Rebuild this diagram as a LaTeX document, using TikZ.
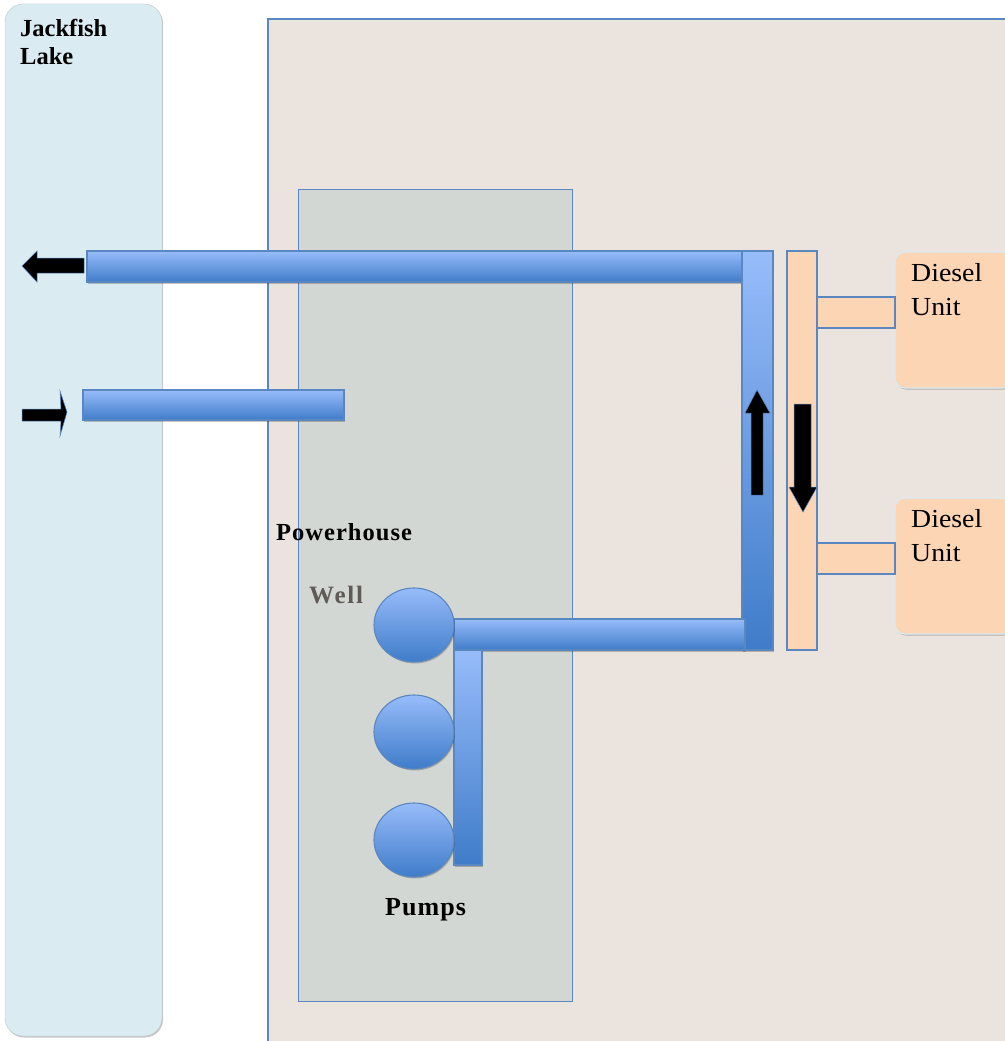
\documentclass[tikz,border=0pt]{standalone}
\usepackage{fontspec}
\setmainfont{Liberation Serif}
\newfontfamily\widefont[FakeStretch=1.07]{Liberation Serif}
\usetikzlibrary{shadows}
\definecolor{lakefill}{HTML}{DAEBF1}
\definecolor{bldfill}{HTML}{EAE3DE}
\definecolor{phfill}{HTML}{D3D7D3}
\definecolor{edgeblue}{HTML}{5B87C0}
\definecolor{pipetop}{HTML}{97BCFA}
\definecolor{pipebot}{HTML}{3F7CC9}
\definecolor{peach}{HTML}{FCD5B4}
\definecolor{wellcol}{HTML}{5F5A55}
\tikzset{
  softshadow/.style={drop shadow={shadow xshift=1pt,shadow yshift=-1.5pt,opacity=.22,fill=black}},
  pipe/.style={draw=edgeblue,line width=1.1pt,top color=pipetop,bottom color=pipebot,middle color=pipetop!50!pipebot,softshadow},
  peachbox/.style={draw=edgeblue,line width=1.2pt,fill=peach},
  unitbox/.style={draw=lakefill,line width=1.2pt,fill=peach,rounded corners=10pt,softshadow},
  flow/.style={fill=black,draw=edgeblue,line width=.5pt},
  lbl/.style={font=\widefont\fontsize{26}{30}\selectfont,text=black,inner sep=0pt,align=left},
  lblb/.style={font=\fontsize{24.5}{28.5}\selectfont\bfseries,text=black,inner sep=0pt,align=left},
}
\begin{document}
\begin{tikzpicture}[x=1pt,y=-1pt]
\useasboundingbox (0,0) rectangle (1004,1041);
% backgrounds
\draw[fill=lakefill,draw=lakefill!85!black,line width=.4pt,rounded corners=18pt,softshadow] (5,4) rectangle (162,1036);
\draw[draw=edgeblue,line width=1.8pt,fill=bldfill] (1010,19) -- (268,19) -- (268,1050) -- (1010,1050);
\draw[draw=edgeblue,line width=1pt,fill=phfill] (298,189) rectangle (572,1001);
% piping
\draw[pipe] (87,251) rectangle (743,282);
\draw[pipe] (83,390) rectangle (344,420);
\draw[pipe] (742,251) rectangle (773,650);
\draw[pipe] (454,619) rectangle (745,650);
\draw[pipe] (454,650) rectangle (482,865);
% pumps
\draw[pipe] (414,625) ellipse (40 and 37);
\draw[pipe] (414,732) ellipse (40 and 37);
\draw[pipe] (414,840) ellipse (40 and 37);
% diesel side
\draw[peachbox] (787,251) rectangle (817,650);
\draw[unitbox] (895,252) -- (1012,252) -- (1012,388) -- (895,388) -- cycle;
\draw[unitbox] (895,498) -- (1012,498) -- (1012,634) -- (895,634) -- cycle;
\draw[peachbox] (817,297) rectangle (895,328);
\draw[peachbox] (817,543) rectangle (895,574);
% flow arrows
\draw[flow] (84,258) -- (37,258) -- (37,251) -- (22,266) -- (37,282) -- (37,273) -- (84,273) -- cycle;
\draw[flow] (22,409) -- (61,409) -- (60,391) -- (67,412) -- (60,436) -- (61,421) -- (22,421) -- cycle;
\draw[flow] (751,495) -- (751,413) -- (745,413) -- (757,390) -- (770,413) -- (763,413) -- (763,495) -- cycle;
\draw[flow] (794,404) -- (811,404) -- (811,487) -- (817,487) -- (803,512) -- (789,487) -- (794,487) -- cycle;
% labels
\node[lblb,anchor=north west] (lake) at (20,19) {Jackfish\\[0pt]Lake};
\node[lblb,anchor=base west] (ph) at (276,540) {\addfontfeature{LetterSpace=4.2}Powerhouse};
\node[lbl,anchor=base west,text=wellcol,font=\fontsize{25}{29}\selectfont\bfseries] (well) at (309,603) {\addfontfeature{LetterSpace=7}Well};
\node[lblb,anchor=base west,font=\fontsize{26}{30}\selectfont\bfseries] (pumps) at (385,915) {\addfontfeature{LetterSpace=4}Pumps};
\node[lbl,anchor=north west] (du1) at (911,263) {Diesel\\[4pt]Unit};
\node[lbl,anchor=north west] (du2) at (911,509) {Diesel\\[4pt]Unit};
\end{tikzpicture}
\end{document}
